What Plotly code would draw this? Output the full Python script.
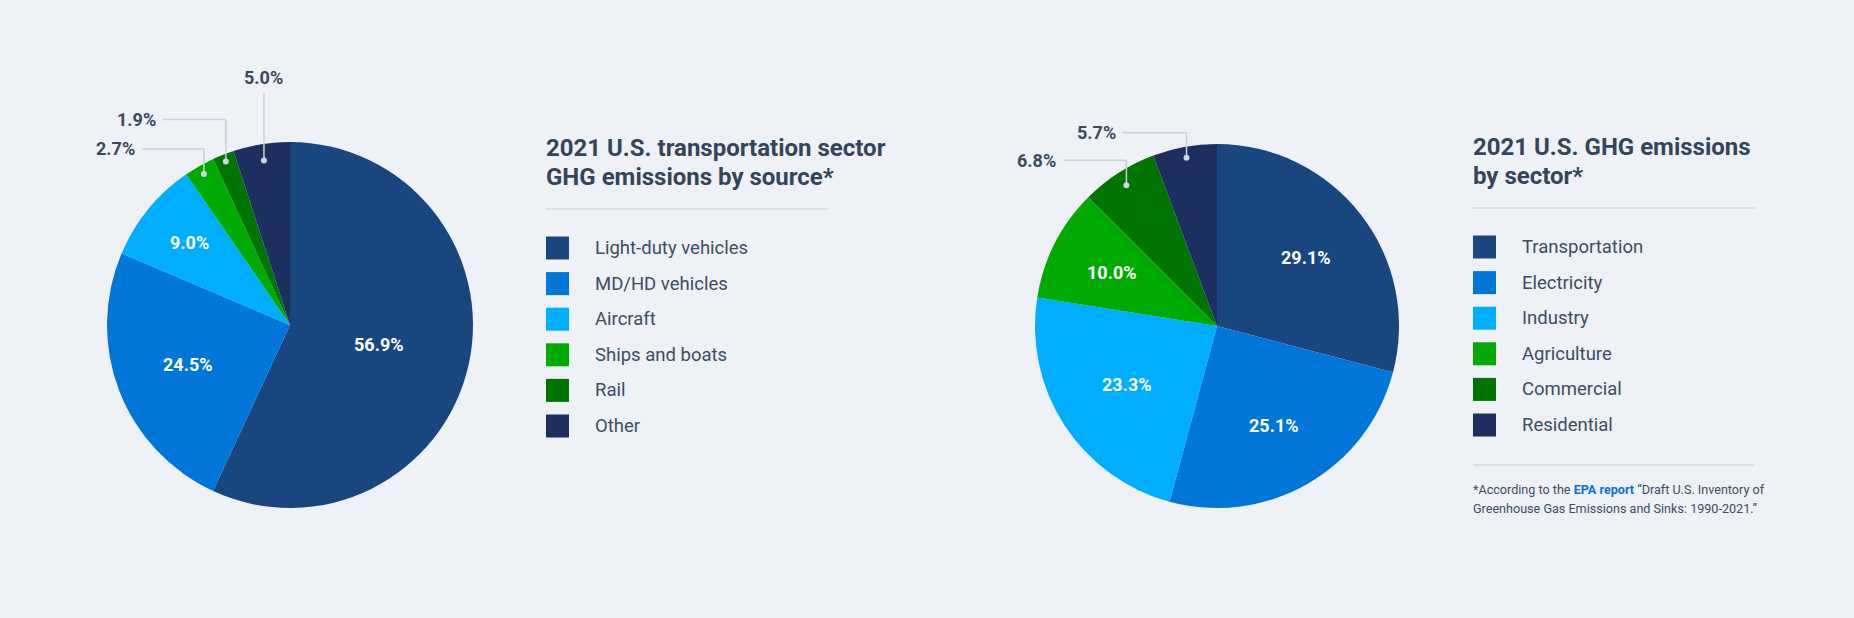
import math

import plotly.graph_objects as go

W, H = 1854, 618

# data
transport_sources = ["Light-duty vehicles", "MD/HD vehicles", "Aircraft",
                     "Ships and boats", "Rail", "Other"]
transport_share = [56.9, 24.5, 9.0, 2.7, 1.9, 5.0]

sectors = ["Transportation", "Electricity", "Industry",
           "Agriculture", "Commercial", "Residential"]
sector_share = [29.1, 25.1, 23.3, 10.0, 6.8, 5.7]

slice_colors = ["#1a4680", "#0076d9", "#00aeff", "#00aa00", "#007400", "#1e2f5f"]

BG = "#eef2f7"
TEXT = "#3a4a5e"
LEADER = "#c9d0da"
FONT = "Roboto"


def px(x):
    return x / W


def py(y):
    return 1 - y / H


fig = go.Figure()
shapes = []
annotations = []


def mid_angles(values):
    total = sum(values)
    out = []
    acc = 0
    for v in values:
        out.append((acc + v / 2) / total * 2 * math.pi)
        acc += v
    return out


def add_pie(values, cx, cy, r, inside):
    # inside: {slice index: radius fraction for the white label}
    fig.add_trace(go.Pie(
        values=values,
        sort=False,
        direction="clockwise",
        rotation=0,
        marker=dict(colors=slice_colors, line=dict(width=0)),
        textinfo="none",
        hoverinfo="skip",
        showlegend=False,
        domain=dict(x=[px(cx - r), px(cx + r)], y=[py(cy + r), py(cy - r)]),
    ))
    angles = mid_angles(values)
    for i, frac in inside.items():
        annotations.append(dict(
            x=px(cx + frac * r * math.sin(angles[i])),
            y=py(cy - frac * r * math.cos(angles[i])),
            xref="paper", yref="paper", showarrow=False,
            text=f"<b>{values[i]:.1f}%</b>",
            xanchor="center", yanchor="middle",
            font=dict(family=FONT, size=18, color="white"),
        ))


def add_callouts(values, cx, cy, r, callouts):
    angles = mid_angles(values)
    for i, c in callouts.items():
        dx = cx + c["frac"] * r * math.sin(angles[i])
        dy = cy - c["frac"] * r * math.cos(angles[i])
        ey = dy - c["rise"]
        label = f"<b>{values[i]:.1f}%</b>"
        shapes.append(dict(type="line", xref="paper", yref="paper",
                           x0=px(dx), y0=py(dy), x1=px(dx), y1=py(ey),
                           line=dict(color=LEADER, width=1.5)))
        shapes.append(dict(type="circle", xref="paper", yref="paper",
                           x0=px(dx - 3), y0=py(dy - 3), x1=px(dx + 3), y1=py(dy + 3),
                           fillcolor="#cfd5de", line=dict(width=0)))
        if c["run"] > 0:
            ex = dx - c["run"]
            shapes.append(dict(type="line", xref="paper", yref="paper",
                               x0=px(dx), y0=py(ey), x1=px(ex), y1=py(ey),
                               line=dict(color=LEADER, width=1.5)))
            annotations.append(dict(x=px(ex - 5), y=py(ey), xref="paper", yref="paper",
                                    text=label, showarrow=False, xanchor="right",
                                    yanchor="middle",
                                    font=dict(family=FONT, size=18, color=TEXT)))
        else:
            annotations.append(dict(x=px(dx), y=py(ey - 4), xref="paper", yref="paper",
                                    text=label, showarrow=False, xanchor="center",
                                    yanchor="bottom",
                                    font=dict(family=FONT, size=18, color=TEXT)))


def add_legend(x, title_lines, labels, y_title=148, y_rule=209, y_first=248, step=35.6):
    for k, line in enumerate(title_lines):
        annotations.append(dict(x=px(x - 2), y=py(y_title + k * 28.6),
                                xref="paper", yref="paper",
                                text=f"<b>{line}</b>", showarrow=False, xanchor="left",
                                yanchor="middle",
                                font=dict(family=FONT, size=24, color="#34455a")))
    shapes.append(dict(type="line", xref="paper", yref="paper",
                       x0=px(x), y0=py(y_rule), x1=px(x + 282), y1=py(y_rule),
                       line=dict(color="#d3d9e1", width=1.5)))
    for i, name in enumerate(labels):
        yc = y_first + i * step
        shapes.append(dict(type="rect", xref="paper", yref="paper",
                           x0=px(x), y0=py(yc - 11.5), x1=px(x + 23), y1=py(yc + 11.5),
                           fillcolor=slice_colors[i], line=dict(width=0)))
        annotations.append(dict(x=px(x + 47), y=py(yc), xref="paper", yref="paper",
                                text=name, showarrow=False, xanchor="left",
                                yanchor="middle",
                                font=dict(family=FONT, size=18.5, color="#3d4d63")))


# left pie: transportation sources
add_pie(transport_share, 290, 325, 183, inside={0: 0.5, 1: 0.6, 2: 0.71})
add_callouts(transport_share, 290, 325, 183, {
    3: dict(frac=0.95, rise=25, run=62),
    4: dict(frac=0.96, rise=42, run=63),
    5: dict(frac=0.91, rise=67, run=0),
})
add_legend(546, ["2021 U.S. transportation sector", "GHG emissions by source*"],
           transport_sources)

# right pie: sectors
add_pie(sector_share, 1217, 326, 182, inside={0: 0.62, 1: 0.63, 2: 0.59, 3: 0.65})
add_callouts(sector_share, 1217, 326, 182, {
    4: dict(frac=0.92, rise=25, run=63),
    5: dict(frac=0.94, rise=25, run=64),
})
add_legend(1473, ["2021 U.S. GHG emissions", "by sector*"], sectors,
           y_title=147.5, y_rule=208, y_first=247)

# footnote
shapes.append(dict(type="line", xref="paper", yref="paper",
                   x0=px(1473), y0=py(465), x1=px(1755), y1=py(465),
                   line=dict(color="#d3d9e1", width=1.5)))
annotations.append(dict(x=px(1471), y=py(489), xref="paper", yref="paper",
                        text="*According to the <b><span style='color:#0b72d6'>EPA report</span></b>"
                             " \u201cDraft U.S. Inventory of",
                        showarrow=False, xanchor="left", yanchor="middle",
                        font=dict(family=FONT, size=12.6, color="#3d4d63")))
annotations.append(dict(x=px(1471), y=py(508), xref="paper", yref="paper",
                        text="Greenhouse Gas Emissions and Sinks: 1990-2021.\u201d",
                        showarrow=False, xanchor="left", yanchor="middle",
                        font=dict(family=FONT, size=12.6, color="#3d4d63")))

fig.update_layout(
    width=W, height=H,
    margin=dict(l=0, r=0, t=0, b=0),
    paper_bgcolor=BG,
    plot_bgcolor=BG,
    shapes=shapes,
    annotations=annotations,
    font=dict(family=FONT),
)

# drop the browser's default body margin so the chart fills the window
fig.write_html("out.html", config={"displayModeBar": False},
               post_script="document.body.style.margin='0';")
